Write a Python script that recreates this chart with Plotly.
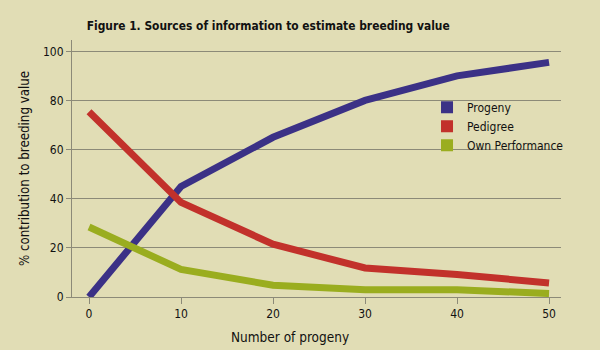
import plotly.graph_objects as go

progeny_counts = [0, 10, 20, 30, 40, 50]
progeny = [0, 45, 65, 80, 90, 95.5]
pedigree = [75.4, 38.5, 21.5, 11.8, 9.2, 5.7]
own_performance = [28.5, 11.2, 4.8, 3.0, 3.0, 1.4]

series_names = ["Progeny", "Pedigree", "Own Performance"]
series_values = [progeny, pedigree, own_performance]
colors = ["#3b3186", "#c2312b", "#9aad1f"]

BG = "#e1ddb5"
GRID = "#8c8a78"
FONT = "DejaVu Sans Condensed, Roboto, sans-serif"

fig = go.Figure()
for name, vals, c in zip(series_names, series_values, colors):
    fig.add_trace(go.Scatter(x=progeny_counts, y=vals, mode="lines", name=name,
                             line=dict(color=c, width=7), showlegend=False))
for name, c in zip(series_names, colors):
    fig.add_trace(go.Scatter(x=[None], y=[None], mode="markers", name=name,
                             marker=dict(symbol="square", size=9, color=c)))

fig.update_layout(
    width=600, height=350,
    paper_bgcolor=BG, plot_bgcolor=BG,
    margin=dict(l=72, r=39, t=40, b=53),
    font=dict(family=FONT, color="#111111", size=12),
    title=dict(text="<b>Figure 1. Sources of information to estimate breeding value</b>",
               xref="container", x=0.447, xanchor="center", y=0.925, yanchor="middle",
               font=dict(family=FONT, size=11.9, color="#111111")),
    showlegend=True,
    legend=dict(x=0.726, y=0.795, xanchor="left", yanchor="top",
                bgcolor="rgba(0,0,0,0)", font=dict(family=FONT, size=12),
                itemsizing="constant", tracegroupgap=0),
    xaxis=dict(range=[-1.85, 51.3], tickvals=progeny_counts, showgrid=False,
               showline=True, linecolor=GRID, linewidth=1,
               ticks="outside", ticklen=6, tickcolor=GRID,
               zeroline=False,
               tickfont=dict(family=FONT, size=12)),
    yaxis=dict(range=[0, 104.6], tickvals=[0, 20, 40, 60, 80, 100], showgrid=True,
               gridcolor=GRID, gridwidth=1,
               showline=True, linecolor=GRID, linewidth=1,
               ticks="outside", ticklen=5, tickcolor=GRID,
               zeroline=False,
               title=dict(text="% contribution to breeding value", font=dict(family=FONT, size=13.2), standoff=10),
               tickfont=dict(family=FONT, size=12)),
    annotations=[dict(text="Number of progeny", xref="paper", yref="paper",
                      x=0.446, y=-0.155, xanchor="center", yanchor="middle",
                      showarrow=False, font=dict(family=FONT, size=13.5, color="#111111"))],
)

fig.write_html("out.html")
